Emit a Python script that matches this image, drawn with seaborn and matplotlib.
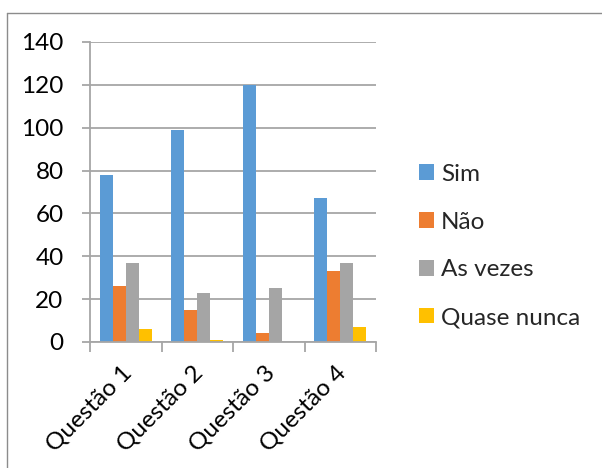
import matplotlib
matplotlib.use("Agg")
import matplotlib.pyplot as plt
import matplotlib.transforms as mtransforms
import seaborn as sns
import pandas as pd
from matplotlib.lines import Line2D
from matplotlib.patches import Patch

categories = ["Questão 1", "Questão 2", "Questão 3", "Questão 4"]
series_names = ["Sim", "Não", "As vezes", "Quase nunca"]
sim = [78, 99, 120, 67]
nao = [26, 15, 4, 33]
as_vezes = [37, 23, 25, 37]
quase_nunca = [6, 1, 0, 7]
y_ticks = [0, 20, 40, 60, 80, 100, 120, 140]
colors = ["#5B9BD5", "#ED7D31", "#A5A5A5", "#FFC000"]

rows = []
for name, vals in zip(series_names, [sim, nao, as_vezes, quase_nunca]):
    for c, v in zip(categories, vals):
        rows.append({"cat": c, "serie": name, "valor": v})
df = pd.DataFrame(rows)

sns.set_theme(style="white")
plt.rcParams["font.family"] = ["Lato", "DejaVu Sans"]
FS = 17.5

W, H = 602, 468
fig = plt.figure(figsize=(W / 100, H / 100), dpi=100)
ax = fig.add_axes([90 / W, 1 - 342 / H, (376 - 90) / W, (342 - 42) / H])

sns.barplot(data=df, x="cat", y="valor", hue="serie", order=categories,
            hue_order=series_names, palette=colors, width=0.73,
            saturation=1, ax=ax, legend=False, linewidth=0)

ax.set_ylim(0, 140)
ax.set_xlim(-0.5, 3.5)
ax.set_yticks(y_ticks)
ax.set_yticklabels([str(t) for t in y_ticks])
grid_c = "#A6A6A6"
ax.yaxis.grid(True, color=grid_c, linewidth=1.3)
ax.set_axisbelow(True)
ax.set_xlabel("")
ax.set_ylabel("")
for s in ["top", "right"]:
    ax.spines[s].set_visible(False)
for s in ["left", "bottom"]:
    ax.spines[s].set_color(grid_c)
    ax.spines[s].set_linewidth(1.3)
ax.tick_params(axis="y", length=6, width=1.3, color=grid_c, labelsize=FS,
               pad=13, labelcolor="black", left=True)

# major x ticks at category boundaries, labels at centers via minor ticks
ax.set_xticks([-0.5, 0.5, 1.5, 2.5, 3.5])
ax.set_xticklabels([])
ax.tick_params(axis="x", which="major", length=7, width=1.3, color=grid_c,
               bottom=True, direction="out")
ax.set_xticks([0, 1, 2, 3], minor=True)
ax.set_xticklabels(categories, minor=True, rotation=45, ha="right",
                   va="top", rotation_mode="anchor", fontsize=FS)
ax.tick_params(axis="x", which="minor", length=0, pad=14, labelcolor="black")
shift = mtransforms.ScaledTranslation(-5 / 100, 0, fig.dpi_scale_trans)
for lbl in ax.get_xticklabels(minor=True):
    lbl.set_transform(lbl.get_transform() + shift)

handles = [Patch(facecolor=c, edgecolor="none") for c in colors]
fig.legend(handles, series_names, loc="center left",
           bbox_to_anchor=(397 / W, 1 - 246 / H), frameon=False,
           fontsize=FS, handlelength=0.62, handleheight=0.62,
           handletextpad=0.3, labelspacing=1.1)

# outer chart border (partly visible)
fig.add_artist(Line2D([7 / W, 7 / W], [0, 1 - 13 / H], color="#8C8C8C", lw=1))
fig.add_artist(Line2D([7 / W, 1], [1 - 13 / H, 1 - 13 / H], color="#8C8C8C", lw=1))

fig.savefig("out.png", dpi=100)
